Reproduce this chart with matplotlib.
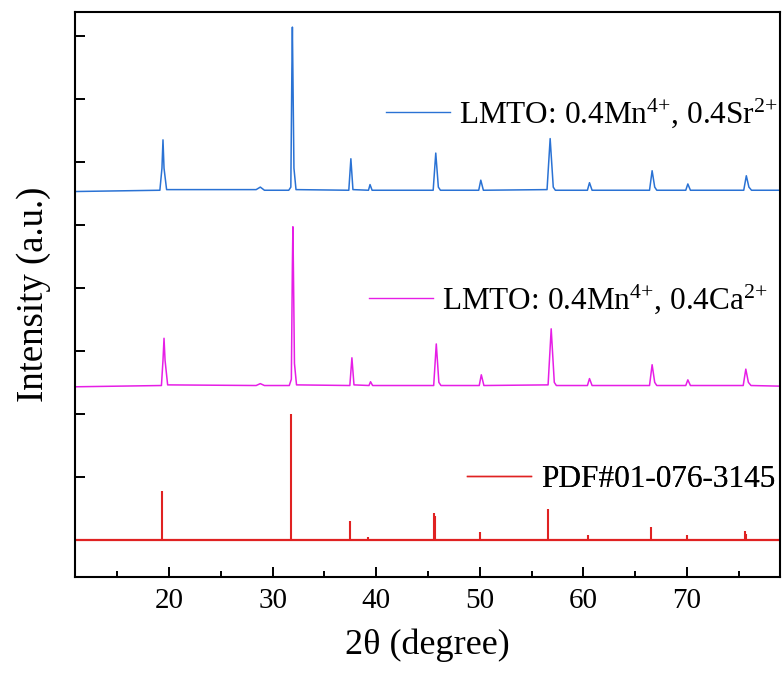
import numpy as np
import matplotlib.pyplot as plt
from matplotlib.lines import Line2D
from matplotlib.ticker import MultipleLocator

plt.rcParams['font.family'] = ['Liberation Serif', 'DejaVu Serif']
plt.rcParams['mathtext.fontset'] = 'custom'
plt.rcParams['mathtext.rm'] = 'Liberation Serif'
plt.rcParams['mathtext.it'] = 'Liberation Serif:italic'

# LMTO: 0.4Mn4+, 0.4Sr2+ (offset trace)
sr_2theta = [11.0, 19.1, 19.3, 19.4, 19.5, 19.75, 28.4, 28.8, 29.2,
             31.55, 31.75, 31.85, 31.9, 31.95, 32.05, 32.25,
             37.35, 37.55, 37.75, 39.25, 39.4, 39.6,
             45.5, 45.75, 46.0, 46.2, 49.9, 50.1, 50.35,
             56.5, 56.8, 57.1, 57.3, 60.4, 60.6, 60.85,
             66.4, 66.65, 66.9, 67.1, 69.9, 70.1, 70.35,
             75.5, 75.75, 76.0, 76.25, 79.0]
sr_int = [5.53, 5.55, 5.90, 6.35, 5.90, 5.56, 5.56, 5.60, 5.55,
          5.55, 5.60, 7.46, 8.14, 7.40, 5.90, 5.56,
          5.55, 6.05, 5.56, 5.55, 5.64, 5.55,
          5.55, 6.14, 5.60, 5.55, 5.55, 5.71, 5.55,
          5.56, 6.37, 5.60, 5.55, 5.55, 5.67, 5.55,
          5.55, 5.86, 5.60, 5.55, 5.55, 5.65, 5.55,
          5.55, 5.78, 5.60, 5.55, 5.55]

# LMTO: 0.4Mn4+, 0.4Ca2+ (offset trace)
ca_2theta = [11.0, 19.25, 19.4, 19.5, 19.6, 19.85, 28.4, 28.8, 29.2,
             31.6, 31.8, 31.9, 31.95, 32.0, 32.1, 32.3,
             37.45, 37.65, 37.85, 39.3, 39.45, 39.65,
             45.55, 45.8, 46.05, 46.25, 49.95, 50.15, 50.4,
             56.6, 56.9, 57.2, 57.4, 60.4, 60.6, 60.85,
             66.4, 66.65, 66.9, 67.1, 69.9, 70.1, 70.35,
             75.45, 75.7, 75.95, 76.2, 79.0]
ca_int = [2.43, 2.45, 2.85, 3.20, 2.85, 2.46, 2.45, 2.48, 2.45,
          2.45, 2.55, 4.37, 4.97, 4.30, 2.80, 2.46,
          2.45, 2.89, 2.46, 2.45, 2.51, 2.45,
          2.45, 3.11, 2.50, 2.45, 2.45, 2.62, 2.45,
          2.46, 3.35, 2.50, 2.45, 2.45, 2.56, 2.45,
          2.45, 2.78, 2.50, 2.45, 2.45, 2.54, 2.45,
          2.45, 2.71, 2.50, 2.45, 2.44]

# PDF#01-076-3145 reference lines
pdf_2theta = [19.3, 22.3, 31.8, 37.5, 39.2, 45.55, 45.7, 50.0,
              56.6, 60.5, 66.5, 70.0, 75.6, 75.7]
pdf_int = [0.78, 0.02, 2.0, 0.30, 0.04, 0.43, 0.38, 0.13,
           0.49, 0.08, 0.21, 0.08, 0.14, 0.10]

c_sr = '#2a72d4'
c_ca = '#e61ee6'
c_pdf = '#e02222'

fig = plt.figure(figsize=(7.82, 6.77), dpi=100)
ax = fig.add_axes([0.0959, 0.1477, 0.9015, 0.8346])

ax.plot(sr_2theta, sr_int, color=c_sr, lw=1.1)
ax.plot(ca_2theta, ca_int, color=c_ca, lw=1.1)
ax.vlines(pdf_2theta, 0, pdf_int, color=c_pdf, lw=1.5)
ax.axhline(0, color=c_pdf, lw=1.6)

ax.set_xlim(10.9, 79)
ax.set_ylim(-0.59, 8.38)
ax.xaxis.set_major_locator(MultipleLocator(10))
ax.xaxis.set_minor_locator(MultipleLocator(5))
ax.yaxis.set_major_locator(MultipleLocator(1))
ax.tick_params(axis='both', which='major', direction='in', length=7,
               width=1.4, labelsize=21, top=False, right=False)
ax.tick_params(axis='x', which='minor', direction='in', length=4,
               width=1.4, top=False)
ax.tick_params(axis='x', pad=8)
ax.tick_params(axis='y', labelleft=False)
for s in ax.spines.values():
    s.set_linewidth(1.5)

ax.set_xlabel('2θ (degree)', fontsize=26, labelpad=10)
ax.set_ylabel('Intensity (a.u.)', fontsize=26.5, labelpad=17)

# one legend entry next to each trace
entries = [
    (c_sr, r'LMTO: 0.4Mn$^{4{+}}$, 0.4Sr$^{2{+}}$', (0.997, 0.821)),
    (c_ca, r'LMTO: 0.4Mn$^{4{+}}$, 0.4Ca$^{2{+}}$', (0.983, 0.492)),
    (c_pdf, 'PDF#01-076-3145', (0.993, 0.172)),
]
for col, txt, anchor in entries:
    h = Line2D([], [], color=col, lw=1.0)
    leg = ax.legend([h], [txt], loc='center right', bbox_to_anchor=anchor,
                    frameon=False, fontsize=22.5, handlelength=2.05,
                    handletextpad=0.3, borderpad=0, borderaxespad=0)
    ax.add_artist(leg)

fig.savefig('out.png', dpi=100)
